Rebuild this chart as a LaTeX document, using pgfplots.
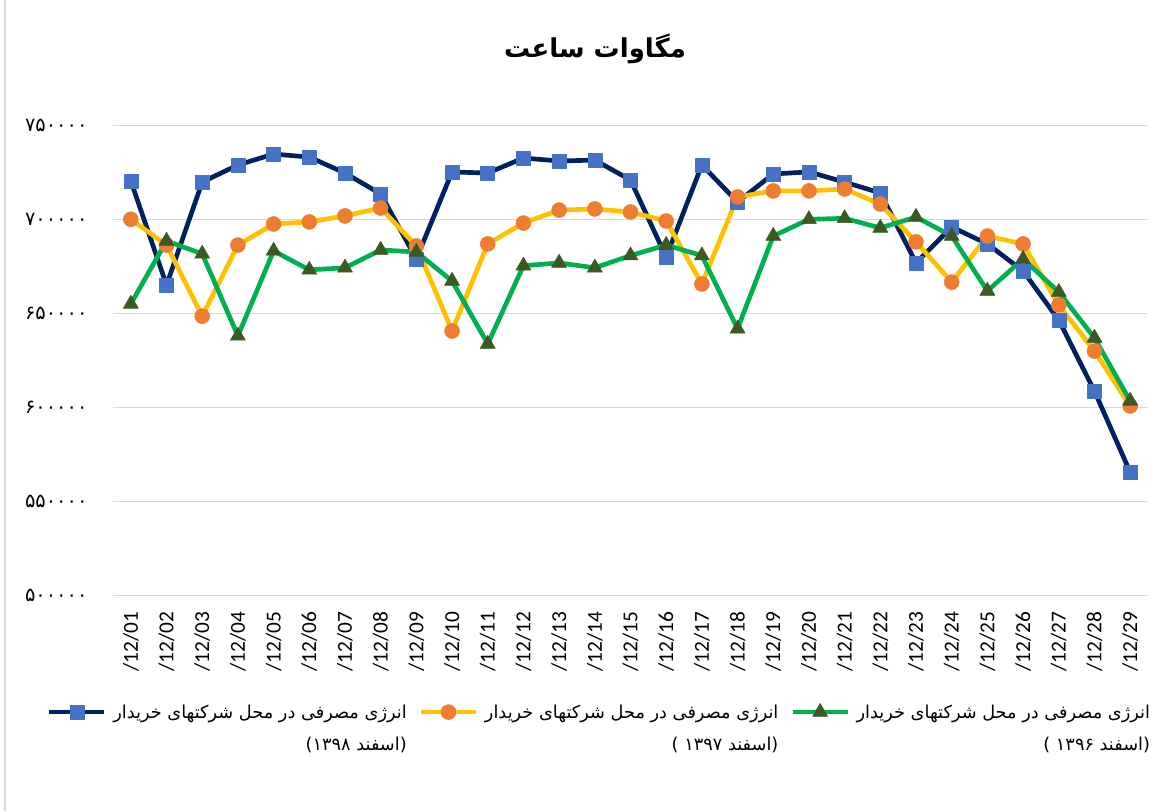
\documentclass[border=0pt]{standalone}
\usepackage{fontspec}
\setmainfont{Carlito}
\newfontfamily\arabicfont[Script=Arabic]{DejaVu Sans}
\TeXXeTstate=1
\usepackage{pgfplots}
\pgfplotsset{compat=1.18}
\definecolor{navyline}{HTML}{002060}
\definecolor{bluemark}{HTML}{4472C4}
\definecolor{goldline}{HTML}{FFC000}
\definecolor{orangemark}{HTML}{ED7D31}
\definecolor{greenline}{HTML}{00B050}
\definecolor{greenmark}{HTML}{3A5A22}
\definecolor{gridgray}{HTML}{D9D9D9}
\begin{document}
\begin{tikzpicture}
\useasboundingbox (0,0) rectangle (874.5pt,608.25pt);
\fill[white] (0,0) rectangle (874.5pt,608.25pt);
\draw[gridgray, line width=1.2pt] (3.75pt,0) -- (3.75pt,608.25pt);
\node[font=\arabicfont\bfseries\fontsize{19.5}{24}\selectfont] at (446.25pt,571.5pt) {\beginR مگاوات ساعت\endR};
\begin{axis}[
  at={(84.75pt,161.775pt)}, anchor=south west,
  scale only axis, width=776.25pt, height=352.5pt,
  xmin=-0.5, xmax=28.5, ymin=500000, ymax=750000,
  scaled y ticks=false,
  axis line style={draw=none},
  tick style={draw=none},
  ymajorgrids, grid style={gridgray, line width=1.1pt},
  ytick={500000,550000,600000,650000,700000,750000},
  yticklabels={۵۰۰۰۰۰,۵۵۰۰۰۰,۶۰۰۰۰۰,۶۵۰۰۰۰,۷۰۰۰۰۰,۷۵۰۰۰۰},
  yticklabel style={font=\arabicfont\fontsize{14.5}{16}\selectfont, anchor=east, inner sep=0pt, xshift=-19pt},
  xtick={0,...,28},
  xticklabels={/12/01,/12/02,/12/03,/12/04,/12/05,/12/06,/12/07,/12/08,/12/09,/12/10,/12/11,/12/12,/12/13,/12/14,/12/15,/12/16,/12/17,/12/18,/12/19,/12/20,/12/21,/12/22,/12/23,/12/24,/12/25,/12/26,/12/27,/12/28,/12/29},
  xticklabel style={font=\fontsize{16}{19}\selectfont, yshift=-12pt, rotate=90, anchor=east, inner sep=0pt},
  clip=false,
  legend columns=3,
  legend image code/.code={\draw[mark repeat=2,mark phase=2] plot coordinates {(0pt,4.5pt) (20.6pt,4.5pt) (41.2pt,4.5pt)};},
  legend style={draw=none, fill=none, inner sep=0pt,
    at={(-0.064,-0.213)}, anchor=north west,
    font=\arabicfont\fontsize{13.3}{24}\selectfont,
    cells={anchor=base east},
    nodes={inner sep=0pt},
    /tikz/every odd column/.append style={column sep=5pt},
    /tikz/every even column/.append style={column sep=9pt}},
]
\addplot[navyline, line width=3.5pt, line join=round, mark=square*, mark size=5.25pt,
  mark options={fill=bluemark, draw=bluemark, line width=0.4pt}] coordinates {
(0,720400) (1,665000) (2,719800) (3,728900) (4,734700) (5,733100) (6,724600) (7,713500)
(8,678900) (9,725200) (10,724600) (11,732600) (12,731000) (13,731500) (14,720900)
(15,679900) (16,728900) (17,709200) (18,724100) (19,725200) (20,719800) (21,714000)
(22,676800) (23,695900) (24,686900) (25,672500) (26,646400) (27,608600) (28,565500)};
\addlegendentry{\begin{tabular}[t]{@{}r@{}}\beginR انرژی مصرفی در محل شرکتهای خریدار\endR\\\beginR(اسفند ۱۳۹۸)\endR\end{tabular}}
\addplot[goldline, line width=3.5pt, line join=round, mark=*, mark size=5.6pt,
  mark options={fill=orangemark, draw=orangemark, line width=0.4pt}] coordinates {
(0,700000) (1,686300) (2,648500) (3,686300) (4,697500) (5,698600) (6,701800) (7,706000)
(8,685800) (9,640600) (10,686900) (11,698000) (12,704900) (13,705500) (14,703900)
(15,699100) (16,665600) (17,711900) (18,715100) (19,715100) (20,716100) (21,708100)
(22,688000) (23,666600) (24,691100) (25,686900) (26,654400) (27,629900) (28,600700)};
\addlegendentry{\begin{tabular}[t]{@{}r@{}}\beginR انرژی مصرفی در محل شرکتهای خریدار\endR\\\beginR(اسفند ۱۳۹۷ )\endR\end{tabular}}
\addplot[greenline, line width=3.5pt, line join=round, mark=triangle*, mark size=6.5pt,
  mark options={fill=greenmark, draw=greenmark, line width=0.4pt}] coordinates {
(0,655000) (1,688500) (2,681600) (3,638000) (4,683200) (5,673100) (6,674200) (7,683700)
(8,682600) (9,667200) (10,633700) (11,675300) (12,676800) (13,674200) (14,680700)
(15,686300) (16,680700) (17,641800) (18,691100) (19,700000) (20,700500) (21,695400)
(22,701200) (23,691100) (24,661900) (25,678900) (26,661300) (27,636900) (28,603400)};
\addlegendentry{\begin{tabular}[t]{@{}r@{}}\beginR انرژی مصرفی در محل شرکتهای خریدار\endR\\\beginR(اسفند ۱۳۹۶ )\endR\end{tabular}}
\end{axis}
\end{tikzpicture}
\end{document}
